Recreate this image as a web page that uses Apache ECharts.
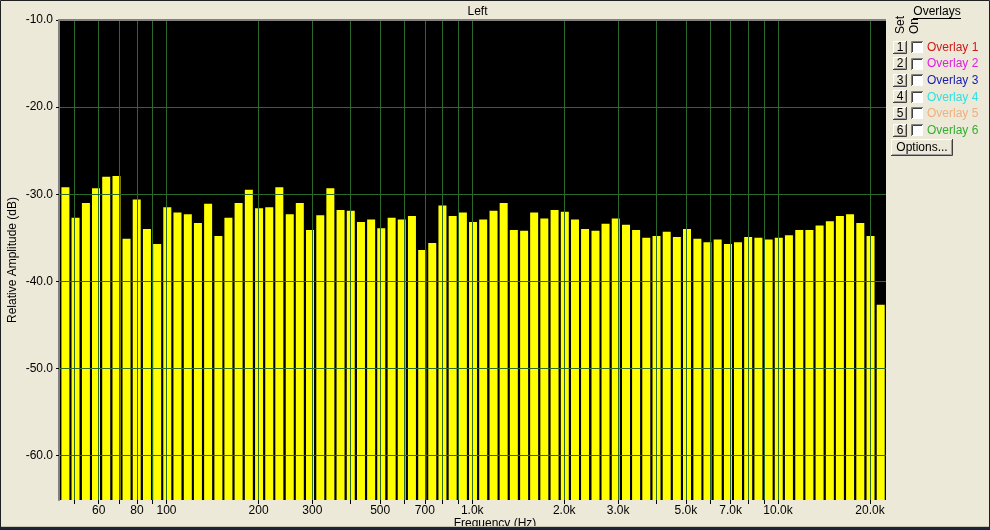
<!DOCTYPE html>
<html><head><meta charset="utf-8">
<script src="https://cdn.jsdelivr.net/npm/echarts@6/dist/echarts.min.js"></script>
<style>html,body{margin:0;padding:0;background:#ECE9D8;overflow:hidden}#c{width:990px;height:530px}</style>
</head><body><div id="c"></div>
<script>
// Band centre frequencies (Hz) of the analyser bars
const bandFreqs = [
  46.7, 50.4, 54.5, 58.8, 63.5, 68.6, 74.0, 79.9, 86.3, 93.2,
  100.6, 108.6, 117.4, 126.7, 136.8, 147.8, 159.4, 172.1, 185.9, 200.8,
  216.8, 233.9, 253.0, 272.9, 294.7, 318.4, 343.5, 370.9, 400.6, 432.6,
  467, 504, 545, 588, 635, 686, 740, 799, 863, 932,
  1006, 1086, 1174, 1267, 1368, 1478, 1594, 1721, 1859, 2008,
  2168, 2339, 2530, 2729, 2947, 3184, 3435, 3709, 4006, 4326,
  4670, 5040, 5450, 5880, 6350, 6860, 7400, 7990, 8630, 9320,
  10060, 10860, 11740, 12670, 13680, 14780, 15940, 17210, 18590, 20080,
  21680
];
// Relative amplitude (dB) per band
const amplitudes = [
  -29.2, -32.7, -31.0, -29.3, -28.0, -27.9, -35.1, -30.6, -34.0, -35.7,
  -31.5, -32.1, -32.3, -33.3, -31.1, -34.8, -32.7, -31.0, -29.5, -31.6,
  -31.5, -29.2, -32.3, -31.0, -34.1, -32.4, -29.3, -31.8, -31.9, -33.2,
  -32.9, -33.9, -32.7, -32.9, -32.5, -36.4, -35.6, -31.3, -32.5, -32.1,
  -33.2, -32.9, -31.9, -31.0, -34.1, -34.2, -32.1, -32.8, -31.8, -32.0,
  -32.9, -34.0, -34.2, -33.4, -32.8, -33.5, -34.1, -35.0, -34.8, -34.3,
  -34.9, -34.0, -35.1, -35.5, -35.2, -35.7, -35.5, -34.9, -35.0, -35.2,
  -35.0, -34.7, -34.1, -34.1, -33.6, -33.1, -32.5, -32.3, -33.3, -34.8,
  -42.7
];
// Frequency grid lines / ticks and labelled ticks
const gridFreqs = [50, 60, 70, 80, 90, 100, 200, 300, 400, 500, 600, 700, 800, 900,
  1000, 2000, 3000, 4000, 5000, 6000, 7000, 8000, 9000, 10000, 20000];
const labelFreqs = [60, 80, 100, 200, 300, 500, 700, 1000, 2000, 3000, 5000, 7000, 10000, 20000];
const dbTicks = [-60, -50, -40, -30, -20, -10];
const overlayNames = ['Overlay 1', 'Overlay 2', 'Overlay 3', 'Overlay 4', 'Overlay 5', 'Overlay 6'];
const overlayColors = ['#D01818', '#E020E0', '#1A1AB0', '#30E0E0', '#F0B080', '#30B030'];

const FONT = 'Liberation Sans';
const GL = 59, GT = 20, GR = 886, GB = 500;
const gridColor = '#2B6A2B';

const chart = echarts.init(document.getElementById('c'), null, {renderer: 'canvas'});

function fmtFreq(v) {
  const r = Math.round(v);
  return r >= 1000 ? (r / 1000).toFixed(1) + 'k' : String(r);
}

// right-side overlay panel
const panel = [];
panel.push({type: 'text', x: 937, y: 12, style: {text: 'Overlays', font: '12px ' + FONT, fill: '#000', align: 'center', verticalAlign: 'middle'}});
panel.push({type: 'line', shape: {x1: 913, y1: 18.5, x2: 961, y2: 18.5}, style: {stroke: '#000', lineWidth: 1}});
panel.push({type: 'text', x: 901, y: 34, rotation: Math.PI / 2, style: {text: 'Set', font: '12px ' + FONT, fill: '#000', align: 'left', verticalAlign: 'middle'}});
panel.push({type: 'text', x: 915, y: 34, rotation: Math.PI / 2, style: {text: 'On', font: '12px ' + FONT, fill: '#000', align: 'left', verticalAlign: 'middle'}});
function button(x, y, w, h, label) {
  panel.push({type: 'rect', shape: {x: x, y: y, width: w, height: h}, style: {fill: '#ECE9D8'}});
  panel.push({type: 'polyline', shape: {points: [[x + 0.5, y + h], [x + 0.5, y + 0.5], [x + w, y + 0.5]]}, style: {stroke: '#FFFFFF', fill: null, lineWidth: 1}});
  panel.push({type: 'polyline', shape: {points: [[x, y + h - 0.5], [x + w - 0.5, y + h - 0.5], [x + w - 0.5, y]]}, style: {stroke: '#404040', fill: null, lineWidth: 1}});
  panel.push({type: 'polyline', shape: {points: [[x + 1, y + h - 1.5], [x + w - 1.5, y + h - 1.5], [x + w - 1.5, y + 1]]}, style: {stroke: '#A0A0A0', fill: null, lineWidth: 1}});
  panel.push({type: 'text', x: x + w / 2, y: y + h / 2, style: {text: label, font: '12px ' + FONT, fill: '#000', align: 'center', verticalAlign: 'middle'}});
}
overlayNames.forEach(function (name, i) {
  const cy = 47 + i * 16.6;
  button(893, Math.round(cy - 6.5), 14, 13, String(i + 1));
  const bx = 911, by = Math.round(cy - 6);
  panel.push({type: 'rect', shape: {x: bx, y: by, width: 12, height: 12}, style: {fill: '#FFFFFF'}});
  panel.push({type: 'polyline', shape: {points: [[bx + 0.5, by + 12], [bx + 0.5, by + 0.5], [bx + 12, by + 0.5]]}, style: {stroke: '#808080', fill: null, lineWidth: 1}});
  panel.push({type: 'polyline', shape: {points: [[bx + 1.5, by + 11], [bx + 1.5, by + 1.5], [bx + 11, by + 1.5]]}, style: {stroke: '#404040', fill: null, lineWidth: 1}});
  panel.push({type: 'text', x: 927, y: cy + 0.5, style: {text: name, font: '12px ' + FONT, fill: overlayColors[i], align: 'left', verticalAlign: 'middle'}});
});
button(891, 139, 62, 17, 'Options...');

const option = {
  animation: false,
  backgroundColor: '#ECE9D8',
  textStyle: {fontFamily: FONT},
  title: {
    text: 'Left', left: (GL + GR) / 2, top: 1, textAlign: 'center',
    textStyle: {fontSize: 12, fontWeight: 'normal', color: '#000', fontFamily: FONT}
  },
  grid: {
    left: GL, top: GT, right: 990 - GR, bottom: 530 - GB,
    show: true, backgroundColor: '#000000', borderWidth: 0,
    containLabel: false, outerBoundsMode: 'none'
  },
  xAxis: {
    type: 'log', logBase: 10, min: 44.5, max: 22560,
    position: 'bottom', z: 5,
    axisLine: {show: false},
    axisTick: {show: true, length: 4, lineStyle: {color: '#000', width: 1}, customValues: gridFreqs},
    axisLabel: {customValues: labelFreqs, formatter: fmtFreq, color: '#000', fontSize: 12, margin: 5, fontFamily: FONT},
    splitLine: {show: true, lineStyle: {color: gridColor, width: 1}},
    minorTick: {show: false}, minorSplitLine: {show: false},
    name: 'Frequency (Hz)', nameLocation: 'middle', nameGap: 18, nameMoveOverlap: false,
    nameTextStyle: {color: '#000', fontSize: 12, fontFamily: FONT, verticalAlign: 'top', padding: [0, 0, 0, 45]}
  },
  yAxis: {
    type: 'value', min: -65.1, max: -10, startValue: -65.1, z: 5,
    axisLine: {show: true, lineStyle: {color: '#808080', width: 2}},
    axisTick: {show: true, length: 3, lineStyle: {color: '#000'}, customValues: dbTicks},
    axisLabel: {customValues: dbTicks, formatter: function (v) { return v.toFixed(1); }, color: '#000', fontSize: 12, margin: 6, fontFamily: FONT},
    splitLine: {show: true, lineStyle: {color: gridColor, width: 1}},
    name: 'Relative Amplitude (dB)', nameLocation: 'middle', nameGap: 40, nameRotate: 90, nameMoveOverlap: false,
    nameTextStyle: {color: '#000', fontSize: 12, fontFamily: FONT}
  },
  series: [{
    type: 'bar',
    data: bandFreqs.map(function (f, i) { return [f, amplitudes[i]]; }),
    barWidth: 8,
    itemStyle: {color: '#FFFF00'},
    silent: true, z: 2
  }],
  graphic: {elements: [
    {type: 'line', z: 100, shape: {x1: GL - 1, y1: GT, x2: GR, y2: GT}, style: {stroke: '#808080', lineWidth: 2}},
    {type: 'rect', z: 100, shape: {x: 0, y: 526, width: 990, height: 1}, style: {fill: '#C8C4B4'}},
    {type: 'rect', z: 100, shape: {x: 0, y: 527, width: 990, height: 3}, style: {fill: '#1B2638'}},
    {type: 'rect', z: 100, shape: {x: 0.5, y: 0.5, width: 989, height: 529}, style: {fill: null, stroke: '#202020', lineWidth: 1}},
    {type: 'group', z: 100, children: panel}
  ]}
};
chart.setOption(option);
</script>
</body></html>
